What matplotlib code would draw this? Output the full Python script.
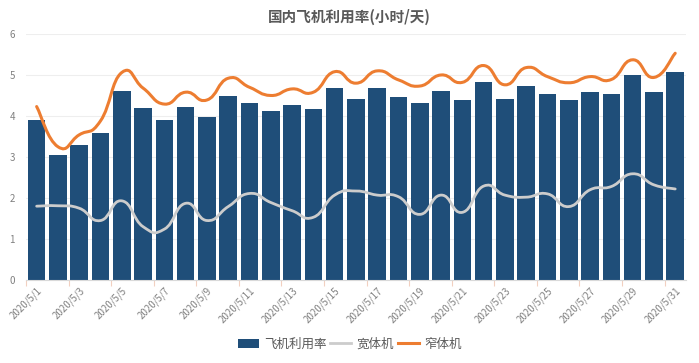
import matplotlib
matplotlib.use('Agg')
import matplotlib.pyplot as plt
from matplotlib.path import Path
from matplotlib.patches import PathPatch, Patch
from matplotlib.lines import Line2D
import numpy as np

plt.rcParams['font.family'] = ['Noto Sans CJK SC', 'DejaVu Sans']

dates = ['2020/5/%d' % d for d in range(1, 32)]

utilization = [3.90, 3.05, 3.28, 3.59, 4.62, 4.20, 3.89, 4.21, 3.98, 4.48,
               4.32, 4.13, 4.26, 4.16, 4.68, 4.41, 4.69, 4.46, 4.31, 4.60,
               4.40, 4.83, 4.41, 4.74, 4.54, 4.40, 4.58, 4.53, 4.99, 4.58,
               5.07]

wide_body = [1.80, 1.81, 1.75, 1.45, 1.93, 1.30, 1.24, 1.87, 1.45, 1.79,
             2.11, 1.89, 1.69, 1.53, 2.07, 2.17, 2.07, 2.03, 1.60, 2.07,
             1.65, 2.29, 2.07, 2.02, 2.10, 1.79, 2.20, 2.28, 2.59, 2.32,
             2.22]

narrow_body = [4.23, 3.25, 3.54, 3.88, 5.06, 4.68, 4.29, 4.58, 4.39, 4.92,
               4.70, 4.50, 4.66, 4.58, 5.08, 4.80, 5.10, 4.88, 4.73, 5.00,
               4.82, 5.23, 4.76, 5.18, 4.96, 4.81, 4.96, 4.89, 5.37, 4.94,
               5.53]

BAR_COLOR = '#1F4E79'
WIDE_COLOR = '#CCCCCC'
NARROW_COLOR = '#ED7D31'
TEXT_COLOR = '#595959'


def smooth_path(xs, ys, smooth=0.5):
    # bezier through every point, control points from neighbours (echarts-like)
    pts = np.column_stack([xs, ys]).astype(float)
    n = len(pts)
    verts = [tuple(pts[0])]
    codes = [Path.MOVETO]
    for i in range(n - 1):
        p0 = pts[i - 1] if i > 0 else pts[i]
        p1 = pts[i]
        p2 = pts[i + 1]
        p3 = pts[i + 2] if i + 2 < n else pts[i + 1]
        c1 = p1 + (p2 - p0) * smooth * 0.5
        c2 = p2 - (p3 - p1) * smooth * 0.5
        verts += [tuple(c1), tuple(c2), tuple(p2)]
        codes += [Path.CURVE4] * 3
    return Path(verts, codes)


fig = plt.figure(figsize=(6.99, 3.63), dpi=100)
ax = fig.add_axes([0.0372, 0.2287, 0.944, 0.6777])

x = np.arange(len(dates))
ax.bar(x, utilization, width=0.82, color=BAR_COLOR, zorder=2)

ax.add_patch(PathPatch(smooth_path(x, wide_body), facecolor='none',
                       edgecolor=WIDE_COLOR, lw=2.0, zorder=3,
                       capstyle='round', joinstyle='round'))
ax.add_patch(PathPatch(smooth_path(x, narrow_body), facecolor='none',
                       edgecolor=NARROW_COLOR, lw=2.2, zorder=4,
                       capstyle='round', joinstyle='round'))

ax.set_xlim(-0.5, len(dates) - 0.5)
ax.set_ylim(0, 6)
ax.set_yticks(range(0, 7))
ax.grid(axis='y', color='#EEEEEE', lw=0.8, zorder=0)
ax.set_axisbelow(True)

for s in ['top', 'right', 'left']:
    ax.spines[s].set_visible(False)
ax.spines['bottom'].set_color('#D9D9D9')
ax.spines['bottom'].set_linewidth(0.8)

ax.tick_params(axis='y', length=0, labelsize=7, labelcolor='#808080', pad=8)

# labels at category centres, tick marks on the boundaries
ax.set_xticks(x[::2])
ax.set_xticklabels(dates[::2], rotation=45, ha='right', va='top',
                   rotation_mode='anchor', fontsize=7, color='#808080')
ax.tick_params(axis='x', length=0, pad=4)
ax.set_xticks(np.arange(-0.5, len(dates), 2), minor=True)
ax.tick_params(axis='x', which='minor', length=4, color='#F2D0C0', width=0.8)

fig.text(0.5, 0.953, '国内飞机利用率(小时/天)', ha='center', va='center',
         fontsize=10.5, fontweight='bold', color=TEXT_COLOR)

handles = [Patch(facecolor=BAR_COLOR, edgecolor='none'),
           Line2D([], [], color=WIDE_COLOR, lw=2),
           Line2D([], [], color=NARROW_COLOR, lw=2.2)]
fig.legend(handles, ['飞机利用率', '宽体机', '窄体机'], loc='center',
           bbox_to_anchor=(0.5, 0.052), ncol=3, frameon=False, fontsize=9,
           labelcolor=TEXT_COLOR, handlelength=1.7, handleheight=0.7,
           handletextpad=0.4, columnspacing=0.3)

fig.savefig('out.png', dpi=100)
